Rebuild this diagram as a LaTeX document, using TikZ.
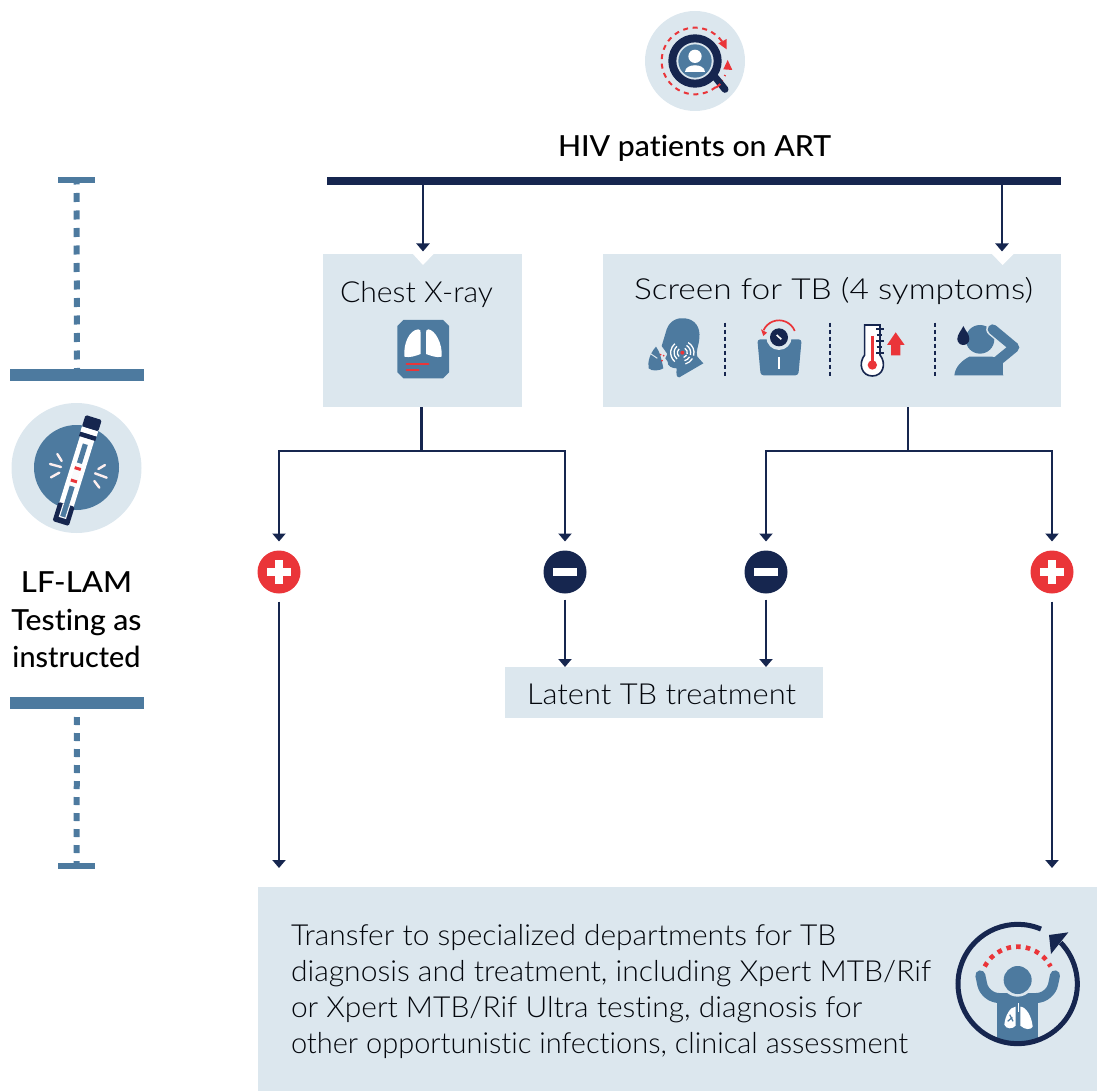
\documentclass[tikz,border=0pt]{standalone}
\usepackage{graphicx}
\usepackage{fontspec}
\setmainfont{Lato}[UprightFont=* Light,BoldFont=* Medium,Ligatures=NoCommon]
\usetikzlibrary{arrows.meta}
\definecolor{navy}{HTML}{16264F}
\definecolor{tbred}{HTML}{EA3539}
\definecolor{steel}{HTML}{4D7A9F}
\definecolor{pale}{HTML}{DCE7EE}
\newcommand{\fitw}[2]{\resizebox{#1pt}{\height}{#2}}
\tikzset{
  box/.style={fill=pale,draw=none,inner sep=0pt,outer sep=0pt},
  solidbar/.style={inner sep=0pt,outer sep=0pt,draw=none},
  lbl/.style={inner sep=0pt,outer sep=0pt,anchor=base west,text=black!85!navy,font=\fontsize{29}{35}\selectfont},
  headlbl/.style={inner sep=0pt,outer sep=0pt,anchor=base,text=black,font=\fontsize{29}{35}\selectfont\bfseries},
  flow/.style={draw=navy,line width=2.2pt},
  flowarr/.style={flow,-{Triangle[width=13pt,length=8pt]}},
  sign/.style={circle,minimum size=43pt,inner sep=0pt,outer sep=0pt,draw=none},
  dashup/.style={draw=steel,line width=6pt,dash pattern=on 9pt off 8.5pt,dash phase=7.5pt},
  dashlow/.style={draw=steel,line width=6pt,dash pattern=on 8pt off 8pt,dash phase=8pt},
  sep/.style={draw=navy,line width=1.8pt,dash pattern=on 4pt off 3pt},
  zoomA/.style={x=0.33333pt,y=-0.33333pt},
}
\begin{document}
\begin{tikzpicture}[x=1pt,y=-1pt]
\useasboundingbox (0,0) rectangle (1097,1091);
% boxes
\node[solidbar,fill=navy,minimum width=734pt,minimum height=8pt] (bar) at (694,181) {};
\node[box,minimum width=199pt,minimum height=153pt] (xray) at (422.5,330.5) {};
\node[box,minimum width=458pt,minimum height=153pt] (screen) at (832,330.5) {};
\node[box,minimum width=318pt,minimum height=51pt] (latent) at (664,692.5) {};
\node[box,minimum width=839pt,minimum height=204pt] (final) at (677.5,989) {};
% notches
\fill[white] (412.5,253.5) -- (434,253.5) -- (423,265) -- cycle;
\fill[white] (991.5,253.5) -- (1014,253.5) -- (1002.5,265) -- cycle;
\coordinate (xrayin) at (423,254);
\coordinate (screenin) at (1002,254);
\coordinate (screenout) at (908,407);
\coordinate (xrayout) at (421.5,407);
% signs
\node[sign,fill=tbred] (plusA) at (279,572) {};
\node[sign,fill=navy] (minusA) at (565,572) {};
\node[sign,fill=navy] (minusB) at (766,572) {};
\node[sign,fill=tbred] (plusB) at (1052,572) {};
\foreach \n in {plusA,plusB}{
  \fill[white] ([shift={(-12pt,-3.8pt)}]\n.center) rectangle ([shift={(12pt,3.8pt)}]\n.center);
  \fill[white] ([shift={(-3.8pt,-12pt)}]\n.center) rectangle ([shift={(3.8pt,12pt)}]\n.center);
}
\foreach \n in {minusA,minusB}{
  \fill[white] ([shift={(-12pt,-3.8pt)}]\n.center) rectangle ([shift={(12pt,3.8pt)}]\n.center);
}
% connectors
\draw[flowarr,shorten >=2.5pt] (bar.south -| xrayin) -- (xrayin);
\draw[flowarr,shorten >=2.5pt] (bar.south -| screenin) -- (screenin);
\draw[flow] (xrayout) -- (xrayout |- 0,451);
\draw[flowarr,shorten >=9pt] (xrayout |- 0,451) -| (plusA.north);
\draw[flowarr,shorten >=9pt] (xrayout |- 0,451) -| (minusA.north);
\draw[flow] (screenout) -- (screenout |- 0,451);
\draw[flowarr,shorten >=9pt] (screenout |- 0,451) -| (minusB.north);
\draw[flowarr,shorten >=9pt] (screenout |- 0,451) -| (plusB.north);
\draw[flowarr,shorten <=8pt,shorten >=19pt] (plusA.south) -- (plusA.south |- final.north);
\draw[flowarr,shorten <=8pt,shorten >=19pt] (plusB.south) -- (plusB.south |- final.north);
\draw[flowarr,shorten <=6pt] (minusA.south) -- (minusA.south |- latent.north);
\draw[flowarr,shorten <=6pt] (minusB.south) -- (minusB.south |- latent.north);
% left rail
\node[solidbar,fill=steel,minimum width=37pt,minimum height=6pt] (railtop) at (76.5,180) {};
\node[solidbar,fill=steel,minimum width=134pt,minimum height=12pt] (railA) at (77,375) {};
\node[solidbar,fill=steel,minimum width=134pt,minimum height=12pt] (railB) at (77,703) {};
\node[solidbar,fill=steel,minimum width=37pt,minimum height=6pt] (railbot) at (76.5,866) {};
\draw[dashup] (railtop.south) -- (railA.north);
\draw[dashlow] (railB.south) -- (railbot.north);
% text
\node[headlbl] (t0) at (694.5,157) {\fitw{273}{HIV patients on ART}};
\node[headlbl] (t1) at (76.5,592) {\fitw{111}{LF-LAM}};
\node[headlbl] (t2) at (76.5,630) {\fitw{130}{Testing as}};
\node[headlbl] (t3) at (76.5,667) {\fitw{128}{instructed}};
\node[lbl] (t4) at (340,302) {\fitw{153}{Chest X-ray}};
\node[lbl] (t5) at (634,299) {\fitw{399}{Screen for TB (4 symptoms)}};
\node[lbl] (t6) at (527,704) {\fitw{269}{Latent TB treatment}};
\node[lbl] (t7) at (291,945) {\fitw{545}{Transfer to specialized departments for TB}};
\node[lbl] (t8) at (291,981) {\fitw{640}{diagnosis and treatment, including Xpert MTB/Rif}};
\node[lbl] (t9) at (291,1017) {\fitw{571}{or Xpert MTB/Rif Ultra testing, diagnosis for}};
\node[lbl] (t10) at (291,1053) {\fitw{617}{other opportunistic infections, clinical assessment}};
% --- search icon
\begin{scope}[shift={(695pt,-61pt)},x=0.33333pt,y=0.33333pt]
  \fill[pale] (0,0) circle (150);
  \draw[tbred,line width=2pt,dash pattern=on 5pt off 4.6pt] (36:100) arc[start angle=36,end angle=335,radius=100];
  \fill[tbred] (70,53) -- (95,66) -- (95,35) -- cycle;
  \fill[tbred] (85,-25) -- (112,-27) -- (98,3) -- cycle;
  \draw[navy,line width=7pt,line cap=round] (62,-50) -- (90,-85);
  \draw[navy,line width=8pt] (0,0) circle (68);
  \fill[steel] (0,0) circle (50);
  \fill[white] (0,14) circle (20);
  \fill[white] (-30,-33) .. controls (-30,-5) and (30,-5) .. (30,-33) -- cycle;
  \draw[tbred,line width=2pt] (63,-80) -- (76,-69);
\end{scope}
% --- lung icon
\begin{scope}[shift={(320pt,-240pt)},zoomA]
  \fill[steel] (250,240) -- (369,240) -- (387,258) -- (387,397) -- (369,415) -- (250,415) -- (232,397) -- (232,258) -- cycle;
  \fill[white] (253,350) .. controls (250,310) and (268,270) .. (295,268) .. controls (301,268) and (302,272) .. (302,280) -- (302,342) .. controls (285,348) and (270,354) .. cycle;
  \fill[white] (365,350) .. controls (368,310) and (345,270) .. (325,268) .. controls (319,268) and (318,272) .. (318,280) -- (318,342) .. controls (335,348) and (350,354) .. cycle;
  \draw[tbred,line width=2pt,line cap=round] (260,373) -- (325,373);
  \draw[tbred,line width=2pt,line cap=round] (260,390) -- (296,390);
\end{scope}
% --- symptoms
\begin{scope}[shift={(620pt,-240pt)},zoomA]
  \foreach \X in {316,631,946} \draw[sep] (\X,248) -- (\X,408);
  % cough
  \fill[steel] (140,268) .. controls (150,240) and (175,232) .. (195,235) .. controls (225,238) and (242,262) .. (238,295) .. controls (236,320) and (226,335) .. (232,350) -- (250,370) -- (178,412) .. controls (170,412) and (168,405) .. (170,385) .. controls (155,385) and (142,378) .. (143,365) -- (136,355) -- (142,342) -- (125,318) -- cycle;
  \fill[steel] (108,320) .. controls (90,340) and (82,365) .. (86,385) .. controls (95,395) and (120,392) .. (130,385) .. controls (125,360) and (120,335) .. (108,320) -- cycle;
  \draw[pale,line width=1pt] (90,340) -- (112,355);
  \foreach \R in {15,25,35} {
    \draw[white,line width=1.3pt] (187,338) ++(-60:\R) arc[start angle=-60,end angle=15,radius=\R];
    \draw[white,line width=1.3pt] (187,338) ++(30:\R) arc[start angle=30,end angle=75,radius=\R];
    \draw[white,line width=1.3pt] (187,338) ++(130:\R) arc[start angle=130,end angle=230,radius=\R];
  }
  \fill[tbred] (187,338) circle (6);
  \foreach \P in {(122,344),(131,347),(126,362)} \fill[tbred] \P circle (2.8);
  % scale
  \fill[steel,rounded corners=3pt] (412,298) -- (545,298) -- (535,406) -- (422,406) -- cycle;
  \fill[pale] (477,292) circle (38);
  \fill[navy] (477,292) circle (27);
  \draw[white,line width=1.6pt] (470,285) -- (484,298);
  \draw[white,line width=2.6pt] (477,352) -- (477,388);
  \draw[tbred,line width=1.7pt] (477,292) ++(-22:51) arc[start angle=-22,end angle=-155,radius=51];
  \fill[tbred] (423,268) -- (441,278) -- (430,288) -- cycle;
  % thermometer
  \draw[navy,line width=1.6pt,fill=white] (734,345) -- (734,255) -- (780,255) -- (780,345) .. controls (800,370) and (790,408) .. (757,408) .. controls (724,408) and (714,370) .. (734,345) -- cycle;
  \fill[tbred] (757,375) circle (14);
  \draw[tbred,line width=2.8pt] (757,288) -- (757,375);
  \foreach \Y in {267,303,340} \draw[navy,line width=1.8pt] (768,\Y) -- (792,\Y);
  \foreach \Y in {285,321} \draw[navy,line width=1.5pt] (770,\Y) -- (786,\Y);
  \fill[tbred] (827,277) -- (854,315) -- (841,315) -- (841,346) -- (813,346) -- (813,315) -- (801,315) -- cycle;
  % sweat
  \fill[steel] (1003,406) .. controls (1006,380) and (1025,362) .. (1048,350) -- (1130,350) -- (1150,406) -- cycle;
  \fill[pale] (1080,298) circle (49);
  \fill[steel] (1080,298) circle (43);
  \draw[pale,line width=13pt,line cap=round,line join=round] (1118,268) -- (1183,322) -- (1122,372);
  \draw[steel,line width=10pt,line cap=round,line join=round] (1118,268) -- (1183,322) -- (1122,372);
  \fill[steel] (1100,350) -- (1150,350) -- (1150,406) -- (1100,406) -- cycle;
  \fill[navy] (1030,258) .. controls (1036,272) and (1048,282) .. (1048,297) arc[start angle=0,end angle=180,radius=18] .. controls (1012,282) and (1024,272) .. cycle;
\end{scope}
% --- test strip icon
\fill[pale] (76.5,468) circle (65);
\fill[steel] (76.5,467.5) circle (42.5);
\begin{scope}[shift={(0pt,-390pt)},zoomA]
  \foreach \A/\B in {{(172,192)/(185,213)},{(150,222)/(183,231)},{(153,262)/(178,248)},{(295,237)/(315,225)},{(285,250)/(320,263)},{(283,273)/(298,293)}}
    \draw[white!92!tbred,line width=2.4pt,line cap=round] \A -- \B;
\end{scope}
\begin{scope}[shift={(77.3pt,-470pt)},rotate=-17.3,x=1pt,y=1pt]
  \fill[white] (-7.5,-38) rectangle (7.5,37);
  \fill[navy,rounded corners=1.5pt] (-8.5,43) rectangle (8.5,55);
  \fill[white] (-8.5,37.5) rectangle (8.5,43);
  \fill[navy] (-8.5,33) rectangle (8.5,37.5);
  \fill[navy,rounded corners=1.5pt] (-8.5,-56) rectangle (8.5,-36);
  \fill[steel] (-2.6,27) rectangle (2.6,-49);
  \fill[white!85!pale] (-3.2,7) rectangle (3.2,-17);
  \fill[white!70!pale] (-3.8,-36) rectangle (-2.6,-49) (2.6,-36) rectangle (3.8,-49) (-3.8,-49) rectangle (3.8,-50.2);
  \fill[tbred] (-3.2,0) rectangle (3.2,3);
  \fill[tbred] (-3.2,-13) rectangle (3.2,-10);
\end{scope}
% --- recovery icon
\begin{scope}[shift={(1017.67pt,-984pt)},x=0.33333pt,y=0.33333pt]
  \begin{scope}
    \clip (0,0) circle (178);
    \fill[steel] (-62,-45) rectangle (62,-185);
  \end{scope}
  \draw[steel,line width=10pt,line cap=round,line join=round,rounded corners=14pt] (-112,26) -- (-98,-42) -- (98,-42) -- (112,26);
  \fill[pale] (0,12) circle (50);
  \fill[steel] (0,12) circle (42);
  \draw[navy,line width=5pt] (67:179) arc[start angle=67,end angle=404,radius=179];
  \fill[navy] (152,155) -- (94,147) -- (100,90) -- cycle;
  \draw[tbred,line width=4.6pt,dash pattern=on 4.6pt off 5.1pt] (152:112) arc[start angle=152,end angle=28,radius=112];
  \fill[white] (-6,-68) .. controls (-22,-68) and (-38,-95) .. (-40,-122) .. controls (-35,-136) and (-15,-136) .. (-6,-125) -- cycle;
  \fill[white] (8,-68) .. controls (24,-68) and (42,-95) .. (45,-128) .. controls (40,-138) and (22,-138) .. (8,-125) -- cycle;
  \draw[white,line width=1.4pt] (2,-58) -- (2,-85);
  \draw[steel,line width=1.2pt] (-30,-112) -- (-16,-100) (-24,-92) -- (-14,-112);
\end{scope}
\end{tikzpicture}
\end{document}
